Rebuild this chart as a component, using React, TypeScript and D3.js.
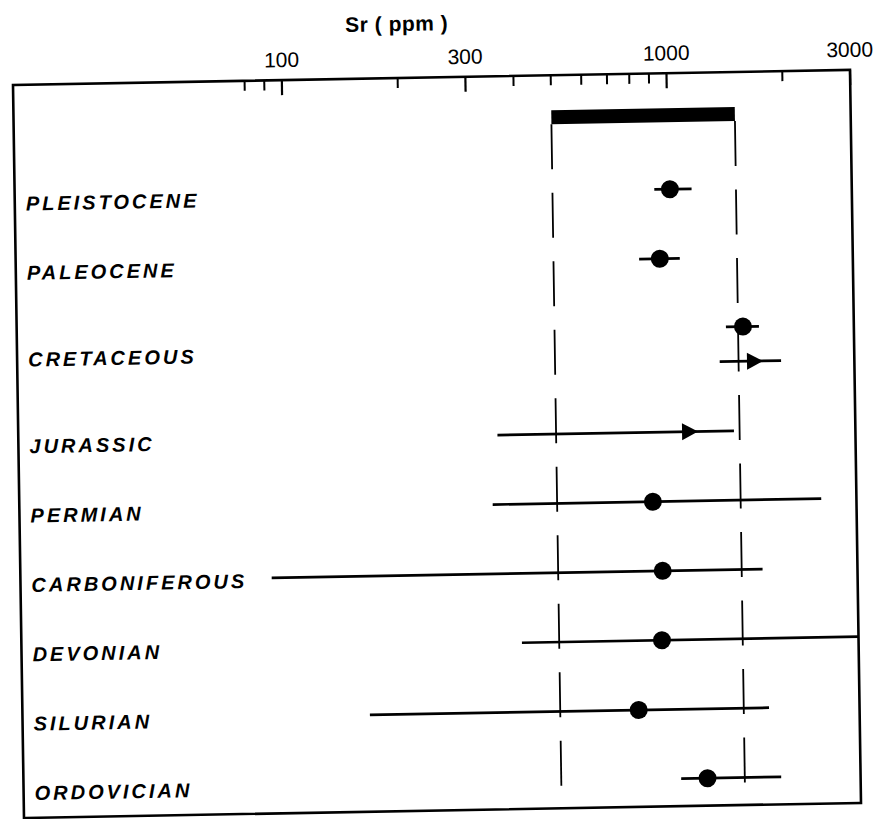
import React from "react";
import * as d3 from "d3";

// ---- data ----
const periods = [
  "PLEISTOCENE",
  "PALEOCENE",
  "CRETACEOUS",
  "JURASSIC",
  "PERMIAN",
  "CARBONIFEROUS",
  "DEVONIAN",
  "SILURIAN",
  "ORDOVICIAN",
];
const samplePeriod = [
  "PLEISTOCENE",
  "PALEOCENE",
  "CRETACEOUS",
  "CRETACEOUS",
  "JURASSIC",
  "PERMIAN",
  "CARBONIFEROUS",
  "DEVONIAN",
  "SILURIAN",
  "ORDOVICIAN",
];
const sampleLow = [920, 835, 1395, 1340, 352, 340, 90, 400, 160, 1025];
const sampleHigh = [1150, 1065, 1700, 1935, 1450, 2430, 1700, 3000, 1745, 1865];
const sampleMean = [1010, 945, 1545, 1655, 1115, 887, 935, 925, 800, 1200];
const sampleMarker = ["dot", "dot", "dot", "arrow", "arrow", "dot", "dot", "dot", "dot", "dot"];
const modernRange = [500, 1500];
const majorTicks = [100, 300, 1000, 3000];
const minorTicks = [80, 90, 200, 400, 500, 600, 700, 800, 900, 2000];
const axisDomain = [20, 3000];
const axisTitle = "Sr ( ppm )";

// ---- layout ----
const W = 878;
const H = 819;
const L = 13;
const R = 850;
const T = 85;
const B = 818;

export default function App() {
  const x = d3.scaleLog().domain(axisDomain).range([L, R]);

  // slot positions: a new period starts a full row, a repeated period half a row
  const slots: number[] = [];
  samplePeriod.forEach((p, i) => {
    if (i === 0) slots.push(0);
    else slots.push(slots[i - 1] + (p === samplePeriod[i - 1] ? 0.5 : 1));
  });
  const maxSlot = d3.max(slots) as number;
  const y = d3.scaleLinear().domain([0, maxSlot]).range([201, 790.5]);

  const periodY = periods.map((p) => {
    const ys = slots.filter((_, i) => samplePeriod[i] === p).map((s) => y(s));
    return d3.mean(ys) as number;
  });

  const barTop = 120;
  const barH = 14;

  const ink = "#000";

  return (
    <svg
      width={W}
      height={H}
      viewBox={`0 0 ${W} ${H}`}
      style={{ position: "absolute", left: 0, top: 0, display: "block", background: "#fff" }}
    >
      <rect x={0} y={0} width={W} height={H} fill="#fff" />
      <g transform={`translate(12,85) matrix(1,-0.018,0.015,1,0,0) translate(-12,-85)`}>
        {/* frame */}
        <rect x={L} y={T} width={R - L} height={B - T} fill="none" stroke={ink} strokeWidth={2.6} />

        {/* axis title */}
        <text
          x={397.5}
          y={38}
          textAnchor="middle"
          fontFamily="'Liberation Sans', Arial, sans-serif"
          fontWeight="bold"
          fontSize={21}
          letterSpacing={0.5}
          fill={ink}
        >
          {axisTitle}
        </text>

        {/* ticks */}
        {minorTicks.map((t) => (
          <line key={"mi" + t} x1={x(t)} x2={x(t)} y1={T} y2={T + 10} stroke={ink} strokeWidth={2} />
        ))}
        {majorTicks.map((t) => (
          <line key={"ma" + t} x1={x(t)} x2={x(t)} y1={T} y2={T + 15} stroke={ink} strokeWidth={2.2} />
        ))}
        {majorTicks.map((t) => (
          <text
            key={"tl" + t}
            x={x(t)}
            y={72}
            textAnchor="middle"
            fontFamily="'Liberation Sans', Arial, sans-serif"
            fontSize={21}
            fill={ink}
          >
            {t}
          </text>
        ))}

        {/* modern range bar + dashed limits */}
        <rect
          x={x(modernRange[0])}
          y={barTop}
          width={x(modernRange[1]) - x(modernRange[0])}
          height={barH}
          fill={ink}
        />
        {modernRange.map((v) => (
          <line
            key={"dl" + v}
            x1={x(v)}
            x2={x(v)}
            y1={barTop + barH}
            y2={B}
            stroke={ink}
            strokeWidth={1.8}
            strokeDasharray="45 23.5"
          />
        ))}

        {/* period labels */}
        {periods.map((p, i) => (
          <text
            key={p}
            x={24}
            y={periodY[i] + 2.5}
            dy="0.36em"
            fontFamily="'Liberation Sans', Arial, sans-serif"
            fontStyle="italic"
            fontWeight="bold"
            fontSize={20}
            letterSpacing={3}
            fill={ink}
          >
            {p}
          </text>
        ))}

        {/* sample ranges and markers */}
        {samplePeriod.map((p, i) => {
          const cy = y(slots[i]);
          const cx = x(sampleMean[i]);
          return (
            <g key={"s" + i}>
              <line
                x1={x(sampleLow[i])}
                x2={x(sampleHigh[i])}
                y1={cy}
                y2={cy}
                stroke={ink}
                strokeWidth={2.7}
              />
              {sampleMarker[i] === "dot" ? (
                <circle cx={cx} cy={cy} r={9} fill={ink} />
              ) : (
                <path
                  d={`M${cx + 8},${cy} L${cx - 8},${cy - 8.5} L${cx - 8},${cy + 8.5} Z`}
                  fill={ink}
                />
              )}
            </g>
          );
        })}
      </g>
    </svg>
  );
}
